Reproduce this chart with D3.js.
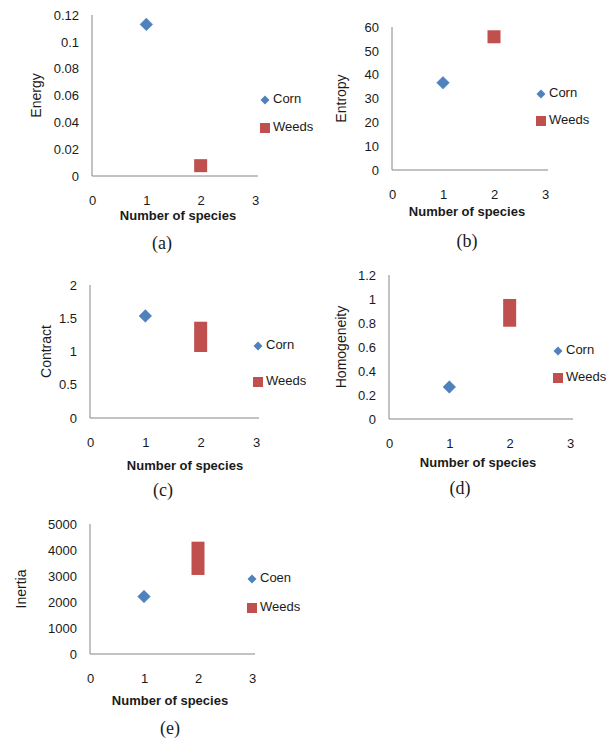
<!DOCTYPE html>
<html>
<head>
<meta charset="utf-8">
<script src="https://cdn.jsdelivr.net/npm/d3@7"></script>
<style>
  body { margin: 0; background: #fff; }
  svg { display: block; }
</style>
</head>
<body>
<svg width="612" height="742"></svg>
<script>
// one panel per texture feature
const metrics = ['Energy', 'Entropy', 'Contract', 'Homogeneity', 'Inertia'];
const captions = ['(a)', '(b)', '(c)', '(d)', '(e)'];
const cornNames = ['Corn', 'Corn', 'Corn', 'Corn', 'Coen'];
const xTicks = [0, 1, 2, 3];
const yMax = [0.12, 60, 2, 1.2, 5000];
const yStep = [0.02, 10, 0.5, 0.2, 1000];

const cornSpecies = 1;
const cornValues = [0.113, 36.6, 1.535, 0.267, 2210];
const weedsSpecies = 2;
const weedsLow = [0.0077, 55.9, 1.09, 0.823, 3290];
const weedsHigh = [0.0077, 55.9, 1.35, 0.946, 4070];

const blue = '#4F81BD';
const red = '#C0504D';
const axisGray = '#868686';
const textColor = '#1a1a1a';
const font = '"Liberation Sans", Arial, sans-serif';

// pixel layout of each panel (x0/x3 = x of 0 and 3, top/bottom = y of max and 0)
const layout = [
  { x0: 92, x3: 255, top: 15, bottom: 176, legX: 265, legY: [100, 128], yTitleX: 37, xTitleX: 178, xTitleY: 217, capX: 162, capY: 245 },
  { x0: 392, x3: 545, top: 27, bottom: 170, legX: 541, legY: [94, 121], yTitleX: 342, xTitleX: 467, xTitleY: 213, capX: 467, capY: 243 },
  { x0: 90, x3: 256, top: 285, bottom: 418, legX: 258, legY: [346, 382], yTitleX: 47, xTitleX: 185, xTitleY: 467, capX: 163, capY: 492 },
  { x0: 389, x3: 570, top: 275, bottom: 419, legX: 558, legY: [351, 378], yTitleX: 342, xTitleX: 478, xTitleY: 464, capX: 460, capY: 490 },
  { x0: 90, x3: 252, top: 524, bottom: 654, legX: 252, legY: [579, 608], yTitleX: 22, xTitleX: 170, xTitleY: 702, capX: 170, capY: 730 },
];

const svg = d3.select('svg');
const diamond = d3.symbol().type(d3.symbolSquare);

metrics.forEach((metric, i) => {
  const L = layout[i];
  const x = d3.scaleLinear([0, 3], [L.x0, L.x3]);
  const y = d3.scaleLinear([0, yMax[i]], [L.bottom, L.top]);
  const g = svg.append('g');

  const yTicks = d3.range(0, yMax[i] + yStep[i] / 2, yStep[i]).map((v) => +v.toFixed(4));

  const xAxis = d3.axisBottom(x).tickValues(xTicks).tickSize(0).tickPadding(20).tickFormat(d3.format('d'));
  const yAxis = d3.axisLeft(y).tickValues(yTicks).tickSize(0).tickPadding(13).tickFormat((d) => String(d));

  g.append('g')
    .attr('transform', `translate(0, ${L.bottom})`)
    .call(xAxis)
    .call((s) => s.select('.domain').attr('stroke', axisGray).attr('d', `M${L.x0},0H${L.x3 + 3}`))
    .selectAll('text')
      .style('font-family', font)
      .style('font-size', '13px')
      .attr('fill', textColor);

  g.append('g')
    .attr('transform', `translate(${L.x0}, 0)`)
    .call(yAxis)
    .call((s) => s.select('.domain').attr('stroke', axisGray).attr('d', `M0,${L.top}V${L.bottom}`))
    .selectAll('text')
      .style('font-family', font)
      .style('font-size', '13px')
      .attr('fill', textColor);

  // weeds: a bar spanning the range of overlapping square markers
  g.append('rect')
    .attr('x', x(weedsSpecies) - 6.5)
    .attr('y', y(weedsHigh[i]) - 6.5)
    .attr('width', 13)
    .attr('height', y(weedsLow[i]) - y(weedsHigh[i]) + 13)
    .attr('fill', red);

  g.append('path')
    .attr('d', diamond.size(80)())
    .attr('transform', `translate(${x(cornSpecies)}, ${y(cornValues[i])}) rotate(45)`)
    .attr('fill', blue)
    .attr('stroke', blue)
    .attr('stroke-width', 0.5)
    .attr('stroke-linejoin', 'round');

  // legend
  g.append('path')
    .attr('d', diamond.size(40)())
    .attr('transform', `translate(${L.legX}, ${L.legY[0]}) rotate(45)`)
    .attr('fill', blue);
  g.append('text')
    .text(cornNames[i])
    .attr('x', L.legX + 8)
    .attr('y', L.legY[0])
    .attr('dominant-baseline', 'middle')
    .style('font-family', font)
    .style('font-size', '13px')
    .attr('fill', textColor);

  g.append('rect')
    .attr('x', L.legX - 5)
    .attr('y', L.legY[1] - 5)
    .attr('width', 10)
    .attr('height', 10)
    .attr('fill', red);
  g.append('text')
    .text('Weeds')
    .attr('x', L.legX + 8)
    .attr('y', L.legY[1])
    .attr('dominant-baseline', 'middle')
    .style('font-family', font)
    .style('font-size', '13px')
    .attr('fill', textColor);

  // titles
  g.append('text')
    .text(metric)
    .attr('transform', `translate(${L.yTitleX}, ${(L.top + L.bottom) / 2}) rotate(-90)`)
    .attr('text-anchor', 'middle')
    .attr('dominant-baseline', 'middle')
    .style('font-family', font)
    .style('font-size', '14px')
    .attr('fill', textColor);

  g.append('text')
    .text('Number of species')
    .attr('x', L.xTitleX)
    .attr('y', L.xTitleY)
    .attr('text-anchor', 'middle')
    .attr('dominant-baseline', 'middle')
    .style('font-family', font)
    .style('font-size', '13px')
    .style('font-weight', 'bold')
    .attr('fill', textColor);

  g.append('text')
    .text(captions[i])
    .attr('x', L.capX)
    .attr('y', L.capY)
    .attr('text-anchor', 'middle')
    .attr('dominant-baseline', 'middle')
    .style('font-family', '"Liberation Serif", "Times New Roman", serif')
    .style('font-size', '18px')
    .attr('fill', textColor);
});
</script>
</body>
</html>
